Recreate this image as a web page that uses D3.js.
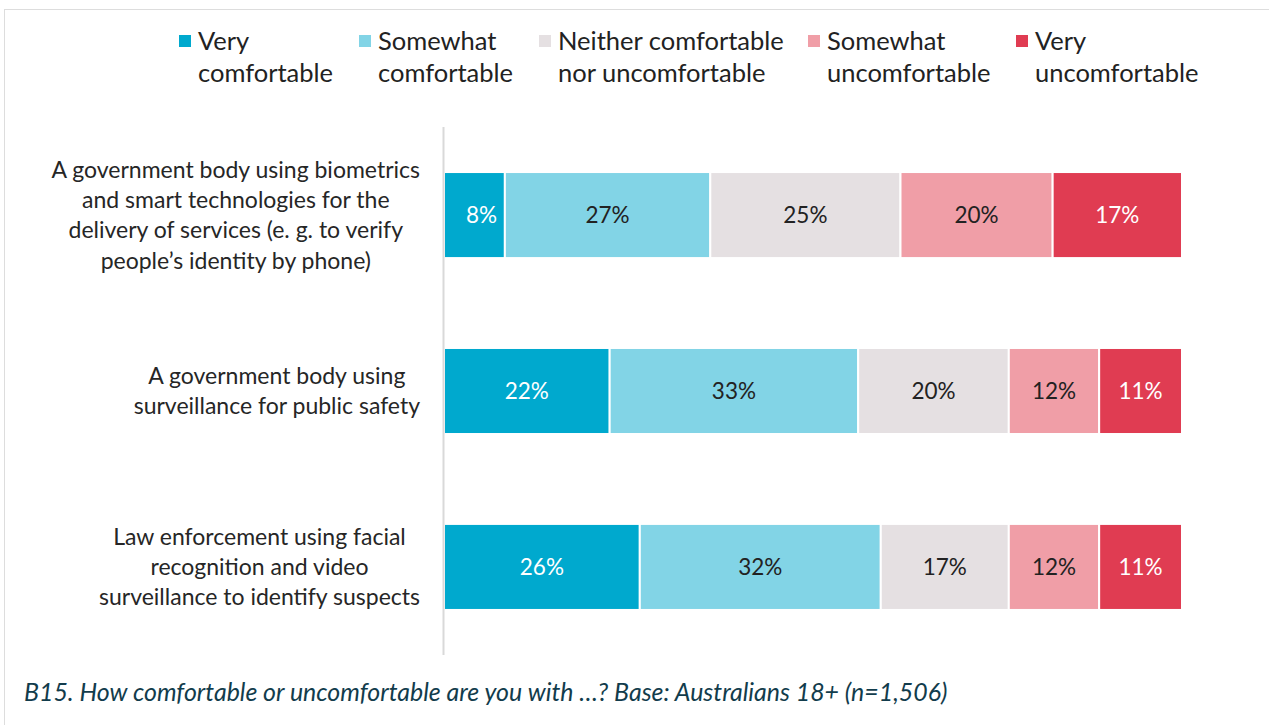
<!DOCTYPE html>
<html>
<head>
<meta charset="utf-8">
<script src="https://cdn.jsdelivr.net/npm/d3@7"></script>
<style>
  html, body { margin: 0; padding: 0; background: #fff; }
  svg { display: block; }
  text { font-family: Lato, "Noto Sans", sans-serif; }
</style>
</head>
<body>
<svg id="chart" width="1269" height="725"></svg>
<script>
// Survey items (each label split into display lines)
const categories = [
  ["A government body using biometrics", "and smart technologies for the", "delivery of services (e. g. to verify", "people\u2019s identity by phone)"],
  ["A government body using", "surveillance for public safety"],
  ["Law enforcement using facial", "recognition and video", "surveillance to identify suspects"]
];

// Response scale
const seriesNames = [
  ["Very", "comfortable"],
  ["Somewhat", "comfortable"],
  ["Neither comfortable", "nor uncomfortable"],
  ["Somewhat", "uncomfortable"],
  ["Very", "uncomfortable"]
];

// Percent of respondents per response, one array per response in category order
const veryComfortable = [8, 22, 26];
const somewhatComfortable = [27, 33, 32];
const neither = [25, 20, 17];
const somewhatUncomfortable = [20, 12, 12];
const veryUncomfortable = [17, 11, 11];

const caption = "B15. How comfortable or uncomfortable are you with \u2026? Base: Australians 18+ (n=1,506)";

const colors = ["#00a9ce", "#82d4e6", "#e5e0e2", "#f09ea7", "#e03c52"];
const labelColors = ["#ffffff", "#222222", "#222222", "#222222", "#ffffff"];

const series = [veryComfortable, somewhatComfortable, neither, somewhatUncomfortable, veryUncomfortable];

const svg = d3.select("#chart");

// Outer frame lines
svg.append("line").attr("x1", 4).attr("x2", 1269).attr("y1", 9.5).attr("y2", 9.5)
  .attr("stroke", "#dddddd").attr("stroke-width", 1);
svg.append("line").attr("x1", 4.5).attr("x2", 4.5).attr("y1", 9).attr("y2", 725)
  .attr("stroke", "#dddddd").attr("stroke-width", 1);

// Scales
const y = d3.scaleBand()
  .domain(d3.range(categories.length))
  .range([127, 655])
  .paddingInner(0.511)
  .paddingOuter(0.256);

const x = d3.scaleLinear().domain([0, 1]).range([444, 1182]);

// Stack rows: each row normalised to its total so bars fill the full width
const rows = categories.map((c, i) => {
  const vals = series.map(s => s[i]);
  const total = d3.sum(vals);
  let acc = 0;
  return vals.map((v, j) => {
    const seg = { row: i, series: j, value: v, x0: acc / total, x1: (acc + v) / total };
    acc += v;
    return seg;
  });
});

const segs = rows.flat();

const bars = svg.append("g");
bars.selectAll("rect")
  .data(segs)
  .join("rect")
  .attr("x", d => x(d.x0))
  .attr("width", d => x(d.x1) - x(d.x0))
  .attr("y", d => y(d.row))
  .attr("height", y.bandwidth())
  .attr("fill", d => colors[d.series])
  .attr("stroke", "#ffffff")
  .attr("stroke-width", 2);

bars.selectAll("text")
  .data(segs)
  .join("text")
  .attr("x", d => (x(d.x0) + x(d.x1)) / 2 + (x(d.x1) - x(d.x0) < 70 ? 7 : 0))
  .attr("y", d => y(d.row) + y.bandwidth() / 2)
  .attr("dy", "0.35em")
  .attr("text-anchor", "middle")
  .attr("font-size", 22.5)
  .attr("fill", d => labelColors[d.series])
  .text(d => d.value + "%");

// Vertical axis line
svg.append("line")
  .attr("x1", 443.5).attr("x2", 443.5)
  .attr("y1", 127).attr("y2", 655)
  .attr("stroke", "#d9d9d9").attr("stroke-width", 2);

// Category labels: lines centred within a block right-aligned at x=420
const lineH = 30.3;
categories.forEach((lines, i) => {
  const g = svg.append("g");
  const cy = y(i) + y.bandwidth() / 2;
  const t = g.selectAll("text").data(lines).join("text")
    .attr("font-size", 23)
    .attr("fill", "#262626")
    .attr("text-anchor", "middle")
    .attr("y", (d, k) => cy + (k - (lines.length - 1) / 2) * lineH)
    .attr("dy", "0.35em")
    .text(d => d);
  let maxW = 0;
  t.each(function () { maxW = Math.max(maxW, this.getComputedTextLength()); });
  t.attr("x", 420 - maxW / 2);
});

// Legend
const legendX = [179, 359, 539, 808, 1016];
const legend = svg.append("g");
seriesNames.forEach((name, i) => {
  legend.append("rect")
    .attr("x", legendX[i]).attr("y", 35)
    .attr("width", 12).attr("height", 12)
    .attr("fill", colors[i]);
  legend.append("text")
    .attr("x", legendX[i] + 19)
    .attr("font-size", 25.5)
    .attr("fill", "#222222")
    .selectAll("tspan").data(name).join("tspan")
    .attr("x", legendX[i] + 19)
    .attr("y", (d, k) => 50 + k * 32)
    .text(d => d);
});

// Source note
svg.append("text")
  .attr("x", 24).attr("y", 701)
  .attr("font-size", 24.9)
  .attr("font-style", "italic")
  .attr("fill", "#123c4c")
  .text(caption);
</script>
</body>
</html>
